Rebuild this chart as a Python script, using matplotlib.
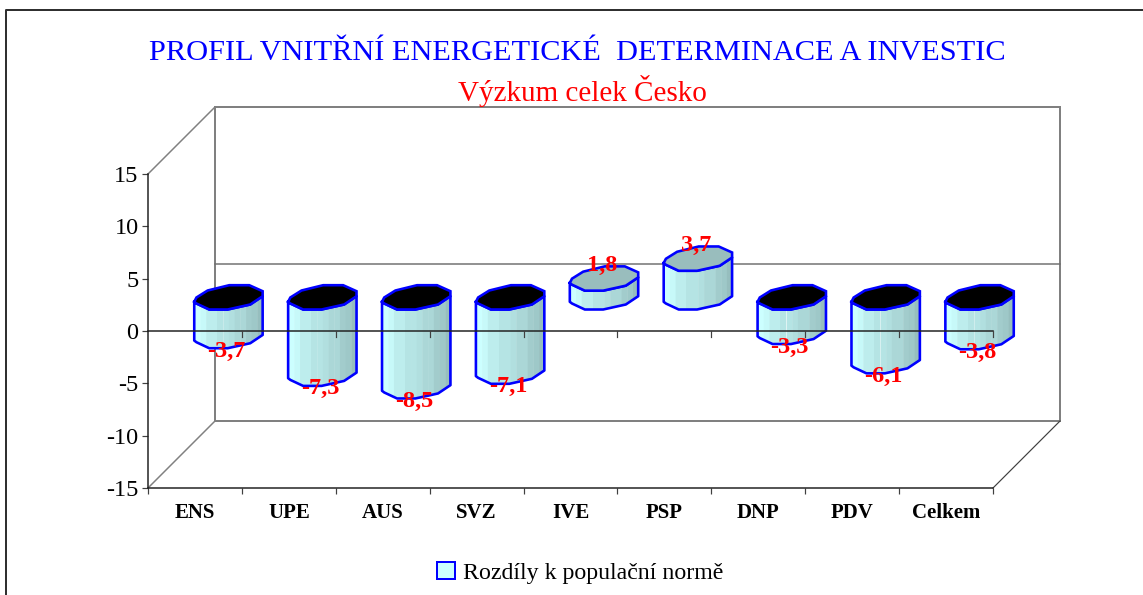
import numpy as np
import matplotlib
matplotlib.use("Agg")
import matplotlib.pyplot as plt
from matplotlib.patches import Patch
from matplotlib.transforms import ScaledTranslation

W, H = 1143, 595

categories = ["ENS", "UPE", "AUS", "SVZ", "IVE", "PSP", "DNP", "PDV", "Celkem"]
values = [-3.7, -7.3, -8.5, -7.1, 1.8, 3.7, -3.3, -6.1, -3.8]
labels = ["-3,7", "-7,3", "-8,5", "-7,1", "1,8", "3,7", "-3,3", "-6,1", "-3,8"]
yticks = [-15, -10, -5, 0, 5, 10, 15]

plt.rcParams["font.family"] = ["Liberation Serif", "DejaVu Serif"]

# plot area in pixels, front plane of the fake 3D box
left, right, top, bottom = 148, 993, 174, 488
depth = 67

fig = plt.figure(figsize=(W / 100, H / 100), dpi=100)
ax = fig.add_axes([left / W, 1 - bottom / H, (right - left) / W, (bottom - top) / H])
ax.set_xlim(0, len(categories))
ax.set_ylim(-15, 15)
ax.patch.set_alpha(0)

px_x = len(categories) / (right - left)
px_y = 30 / (bottom - top)
dx = depth * px_x
dy = depth * px_y

def lw(px):
    return px * 0.72

# back wall and side edges
grey = "#808080"
ax.plot([dx, dx, 9 + dx, 9 + dx, dx], [-15 + dy, 15 + dy, 15 + dy, -15 + dy, -15 + dy],
        color=grey, lw=lw(2), clip_on=False, zorder=1, solid_joinstyle="miter")
ax.plot([dx, 9 + dx], [dy, dy], color="#707070", lw=lw(1.5), clip_on=False, zorder=1)
ax.plot([0, dx], [15, 15 + dy], color=grey, lw=lw(1.5), clip_on=False, zorder=1)
ax.plot([0, dx], [-15, -15 + dy], color=grey, lw=lw(1.5), clip_on=False, zorder=1)
ax.plot([9, 9 + dx], [-15, -15 + dy], color="#404040", lw=lw(1.2), clip_on=False, zorder=1)

# cylinder outline relative to its centre, in pixels (y up)
front_x = np.array([-34.2, -32, -19.2, -0.8, 21.8, 34.2])
front_y = np.array([-4.3, -6, -12, -12, -7, 1.3])
back_x = np.array([34.2, 34.2, 20.8, 0.8, -20.8, -32, -34.2])
back_y = np.array([6.3, 6.3, 12.3, 12.3, 7, 0, -4.3])

strips = np.linspace(-34.2, 34.2, 13)
light = np.array([204, 255, 255]) / 255
dark = np.array([150, 190, 190]) / 255
strip_cols = [light + (dark - light) * t for t in
              [0, 0.1, 0.28, 0.28, 0.42, 0.42, 0.5, 0.62, 0.62, 0.78, 0.85, 1.0]]

for i, (v, lab) in enumerate(zip(values, labels)):
    cx = i + 0.5 + dx / 2
    base = dy / 2
    hi = base + max(v, 0)
    lo = base + min(v, 0)
    for j in range(len(strips) - 1):
        xs = np.array([strips[j], strips[j + 1] + 0.4])
        fy = np.interp(xs, front_x, front_y)
        ax.fill_between(cx + xs * px_x, hi + fy * px_y, lo + fy * px_y,
                        color=strip_cols[j], lw=0, clip_on=False, zorder=3)
    # outline of the body
    ox = np.concatenate([[front_x[0]], front_x, front_x[::-1]])
    oy = np.concatenate([[front_y[0] * px_y + hi], front_y * px_y + lo, front_y[::-1] * px_y + hi])
    ax.plot(cx + ox * px_x, oy, color="#0000ff", lw=lw(2.6), clip_on=False, zorder=4)
    # end cap, black for bars going down
    cap_x = np.concatenate([front_x, back_x])
    cap_y = np.concatenate([front_y, back_y])
    cap = "#000000" if v < 0 else "#99bdbd"
    ax.fill(cx + cap_x * px_x, hi + cap_y * px_y, facecolor=cap, edgecolor="#0000ff",
            lw=lw(2.6), clip_on=False, zorder=5)
    off = 13 if v > 0 else -15
    ax.text(cx - 2 * px_x, (hi if v > 0 else lo) + off * px_y, lab, color="#ff0000", fontsize=17.5,
            fontweight="bold", ha="center", va="center", zorder=8, clip_on=False)

# zero line sits over the bars
ax.plot([0, 9], [0, 0], color="#202020", lw=lw(1.5), zorder=6, clip_on=False)
for k in range(1, 10):
    ax.plot([k, k], [0, -6 * px_y], color="#404040", lw=lw(1.2), zorder=6, clip_on=False)

for s in ["top", "right"]:
    ax.spines[s].set_visible(False)
for s in ["left", "bottom"]:
    ax.spines[s].set_linewidth(lw(1.5))
    ax.spines[s].set_color("#202020")

ax.set_yticks(yticks)
ax.set_yticklabels([str(t) for t in yticks], fontsize=17.5)
shift = ScaledTranslation(0, 2 / 100, fig.dpi_scale_trans)
for t in ax.get_yticklabels():
    t.set_transform(t.get_transform() + shift)
ax.set_xticks(range(10))
ax.set_xticklabels([])
ax.set_xticks(np.arange(9) + 0.5, minor=True)
ax.set_xticklabels(categories, minor=True, fontsize=15, fontweight="bold")
ax.tick_params(axis="x", which="minor", length=0, pad=10.5)
ax.tick_params(axis="x", which="major", length=4.3, width=lw(1.2), color="#404040")
ax.tick_params(axis="y", length=4.3, width=lw(1.2), pad=2.5, color="#404040")

# titles
fig.text(577 / W, 1 - 53 / H, "PROFIL VNITŘNÍ ENERGETICKÉ  DETERMINACE A INVESTIC",
         color="#0000ff", fontsize=21.9, ha="center", va="center")
fig.text(582 / W, 1 - 91 / H, "Výzkum celek Česko", color="#ff0000", fontsize=21,
         ha="center", va="center")

# outer frame, only top and left fall inside the picture
fig.add_artist(plt.Line2D([1, 6 / W, 6 / W], [1 - 10 / H, 1 - 10 / H, 0], color="#303030", lw=lw(2)))

leg = fig.legend(handles=[Patch(facecolor="#ccffff", edgecolor="#0000ff", lw=lw(2),
                                label="Rozdíly k populační normě")],
                 loc="center", bbox_to_anchor=(580 / W, 1 - 573 / H), frameon=False,
                 fontsize=17.2, handlelength=0.75, handleheight=0.75, handletextpad=0.35)

fig.savefig("out.png", dpi=100)
